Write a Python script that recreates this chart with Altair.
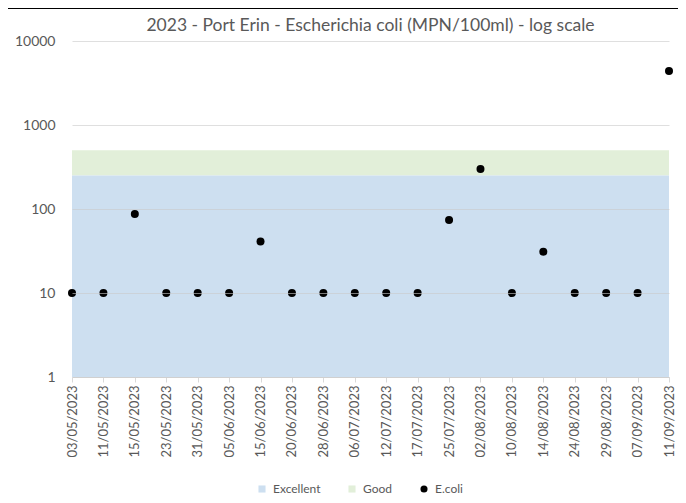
import altair as alt
import pandas as pd

dates = ["03/05/2023", "11/05/2023", "15/05/2023", "23/05/2023", "31/05/2023",
         "05/06/2023", "15/06/2023", "20/06/2023", "28/06/2023", "06/07/2023",
         "12/07/2023", "17/07/2023", "25/07/2023", "02/08/2023", "10/08/2023",
         "14/08/2023", "24/08/2023", "29/08/2023", "07/09/2023", "11/09/2023"]
ecoli = [10, 10, 87, 10, 10, 10, 41, 10, 10, 10,
         10, 10, 74, 300, 10, 31, 10, 10, 10, 4400]
excellent_top = 250
good_top = 500
axis_floor = 1
series_names = ["Excellent", "Good", "E.coli"]
series_colors = ["#cddff0", "#e2efd9", "#000000"]
series_shapes = ["square", "square", "circle"]
title_text = "2023 - Port Erin - Escherichia coli (MPN/100ml) - log scale"

FONT = "Lato"
GREY = "#595959"

bands = pd.DataFrame({
    "date": dates,
    "exc_top": [excellent_top] * len(dates),
    "floor": [axis_floor] * len(dates),
    "good_top": [good_top] * len(dates),
})
points = pd.DataFrame({"date": dates, "value": ecoli, "series": ["E.coli"] * len(dates)})
legend_dummy = pd.DataFrame({"date": [dates[0], dates[0]], "value": [0.5, 0.5],
                             "series": ["Excellent", "Good"]})
single_row = pd.DataFrame({"label": [title_text]})

x_enc = alt.X("date:N", sort=dates, title=None,
              scale=alt.Scale(type="point", padding=0),
              axis=alt.Axis(labelAngle=-90, labelFont=FONT, labelFontSize=13,
                            labelColor=GREY, ticks=True, tickSize=5,
                            tickColor="#d9d9d9", domainColor="#d9d9d9",
                            labelPadding=3, grid=False))
y_scale = alt.Scale(type="log", domain=[1, 10000])
y_axis = alt.Axis(values=[1, 10, 100, 1000, 10000], format="d", labelFont=FONT,
                  labelFontSize=14, labelColor=GREY, ticks=False, domain=False,
                  labelPadding=17, grid=True, gridColor="#c9c9c9",
                  gridOpacity=0.6, zindex=1)

color_scale = alt.Scale(domain=series_names, range=series_colors)
shape_scale = alt.Scale(domain=series_names, range=series_shapes)

green = alt.Chart(bands).mark_area(color="#e2efd9", opacity=1).encode(
    x=x_enc,
    y=alt.Y("good_top:Q", scale=y_scale, axis=y_axis, title=None),
    y2="exc_top:Q",
)
blue = alt.Chart(bands).mark_area(color="#cddff0", opacity=1).encode(
    x=x_enc,
    y=alt.Y("exc_top:Q", scale=y_scale, title=None),
    y2="floor:Q",
)

legend = alt.Legend(orient="none", legendX=184, legendY=442, direction="horizontal",
                    title=None, labelFont=FONT, labelFontSize=12, labelColor=GREY,
                    symbolSize=50, symbolStrokeWidth=0, columnPadding=25,
                    labelOffset=5, padding=0)

dummy = alt.Chart(legend_dummy).mark_point(filled=True, size=50, opacity=1, clip=True).encode(
    x=x_enc,
    y=alt.Y("value:Q", scale=y_scale, title=None),
    color=alt.Color("series:N", scale=color_scale, legend=legend),
    shape=alt.Shape("series:N", scale=shape_scale, legend=legend),
)
dots = alt.Chart(points).mark_point(filled=True, size=64, opacity=1).encode(
    x=x_enc,
    y=alt.Y("value:Q", scale=y_scale, title=None),
    color=alt.Color("series:N", scale=color_scale, legend=legend),
    shape=alt.Shape("series:N", scale=shape_scale, legend=legend),
)

title = alt.Chart(single_row).mark_text(
    font=FONT, fontSize=17.5, color=GREY, align="center", baseline="middle", clip=False
).encode(text="label:N", x=alt.value(298.5), y=alt.value(-15))

frame_top = alt.Chart(single_row).mark_rect(color="#000000", clip=False).encode(
    x=alt.value(-64), x2=alt.value(606), y=alt.value(-34), y2=alt.value(-32))

chart = alt.layer(green, blue, dummy, dots, title, frame_top).properties(
    width=597, height=336,
    autosize=alt.AutoSizeParams(type="none"),
    padding={"left": 64, "top": 33, "right": 9, "bottom": 118},
).configure(background="white").configure_view(stroke=None)

chart.save("out.html", embed_options={"renderer": "svg", "actions": False})
